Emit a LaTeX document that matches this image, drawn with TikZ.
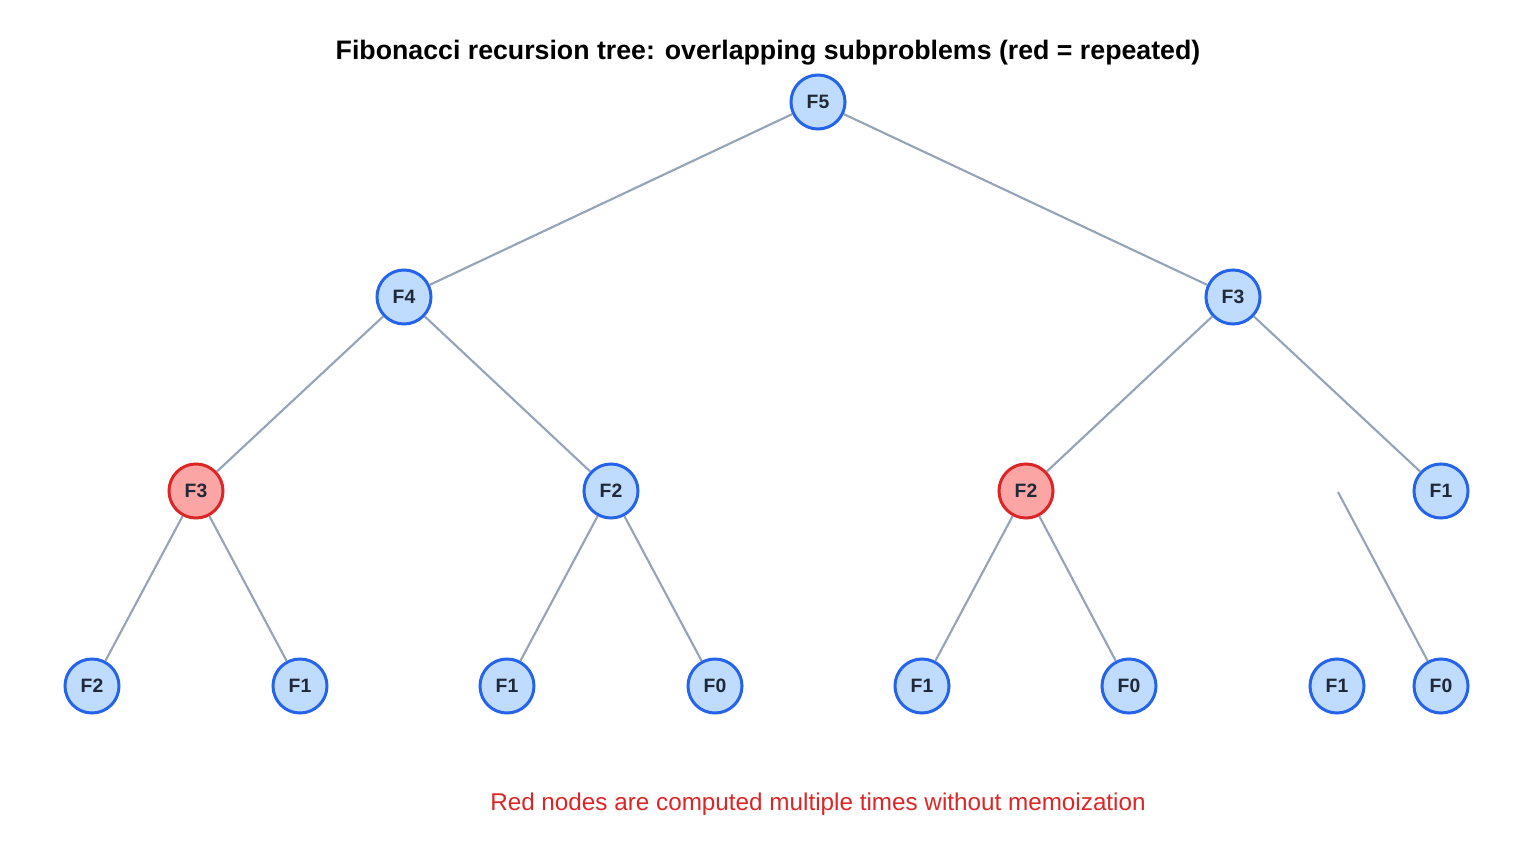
\documentclass[tikz,border=0pt]{standalone}
\usepackage{fontspec}
\setmainfont{Liberation Sans}
\definecolor{EDGE}{HTML}{94A3B8}
\definecolor{BLUEFILL}{HTML}{BFDBFE}
\definecolor{BLUELINE}{HTML}{2563EB}
\definecolor{REDFILL}{HTML}{FCA5A5}
\definecolor{REDLINE}{HTML}{DC2626}
\definecolor{LABEL}{HTML}{1F2937}
\begin{document}
\begin{tikzpicture}[x=0.01cm, y=-0.01cm,
    fib/.style={circle, draw=BLUELINE, fill=BLUEFILL, line width=0.85pt, minimum size=0.54cm, inner sep=0pt, text=LABEL, font=\fontsize{5.5}{6}\selectfont\bfseries},
    rep/.style={fib, draw=REDLINE, fill=REDFILL},
    edge/.style={EDGE, line width=0.6pt}]
    \useasboundingbox (0,0) rectangle (1536,864);
    \node[font=\fontsize{7.6}{9}\selectfont\bfseries] (title) at (768,53) {Fibonacci recursion tree: overlapping subproblems (red = repeated)};
    % levels
    \node[fib] (f5) at (818,102) {F5};
    \node[fib] (f4) at (404,297) {F4};
    \node[fib] (f3) at (1233,297) {F3};
    \node[rep] (f3a) at (196,491) {F3};
    \node[fib] (f2a) at (611,491) {F2};
    \node[rep] (f2b) at (1026,491) {F2};
    \node[fib] (f1a) at (1441,491) {F1};
    \node[fib] (g1) at (92,686) {F2};
    \node[fib] (g2) at (300,686) {F1};
    \node[fib] (g3) at (507,686) {F1};
    \node[fib] (g4) at (715,686) {F0};
    \node[fib] (g5) at (922,686) {F1};
    \node[fib] (g6) at (1129,686) {F0};
    \node[fib] (g7) at (1337,686) {F1};
    \node[fib] (g8) at (1441,686) {F0};
    \coordinate (loose) at (1338,492);
    %
    \draw[edge] (f5) -- (f4);
    \draw[edge] (f5) -- (f3);
    \draw[edge] (f4) -- (f3a);
    \draw[edge] (f4) -- (f2a);
    \draw[edge] (f3) -- (f2b);
    \draw[edge] (f3) -- (f1a);
    \draw[edge] (f3a) -- (g1);
    \draw[edge] (f3a) -- (g2);
    \draw[edge] (f2a) -- (g3);
    \draw[edge] (f2a) -- (g4);
    \draw[edge] (f2b) -- (g5);
    \draw[edge] (f2b) -- (g6);
    \draw[edge] (loose) -- (g8);
    %
    \node[text=REDLINE, font=\fontsize{6.9}{8}\selectfont] (note) at (818,804) {Red nodes are computed multiple times without memoization};
\end{tikzpicture}
\end{document}
